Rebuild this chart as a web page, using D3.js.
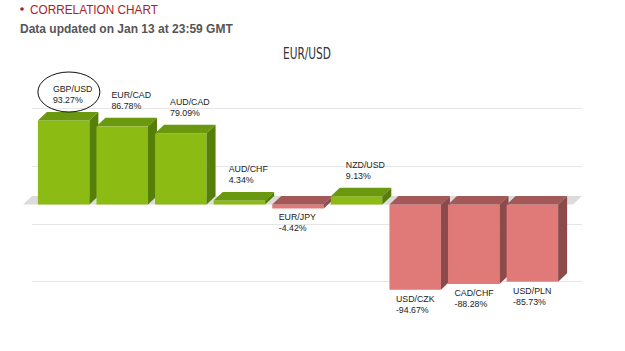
<!DOCTYPE html>
<html><head><meta charset="utf-8">
<script src="https://cdn.jsdelivr.net/npm/d3@7"></script>
<style>body{margin:0;background:#fff}svg{display:block}</style>
</head><body>
<svg id="c" width="625" height="351"></svg>
<script>
const categories = ["GBP/USD","EUR/CAD","AUD/CAD","AUD/CHF","EUR/JPY","NZD/USD","USD/CZK","CAD/CHF","USD/PLN"];
const values = [93.27, 86.78, 79.09, 4.34, -4.42, 9.13, -94.67, -88.28, -85.73];
const gridTicks = [97.8, 33.3, -31.1, -94.4];
const headerTitle = "CORRELATION CHART";
const subtitle = "Data updated on Jan 13 at 23:59 GMT";
const chartTitle = "EUR/USD";

const svg = d3.select("#c");
const dx = 9, dy = 8.5;
const x = d3.scaleBand().domain(categories).range([23, 573]).paddingInner(0.121).paddingOuter(0.254);
const y = d3.scaleLinear().domain([0, 93.27]).range([204.5, 120.5]);
const y0 = y(0);

// header
const hdr = svg.append("g").attr("font-family","Liberation Sans, Arial, sans-serif");
hdr.append("circle").attr("cx",22).attr("cy",9).attr("r",1.8).attr("fill","#a8202e");
hdr.append("text").attr("x",30).attr("y",13.5).attr("font-size",12.5).attr("fill","#a8202e")
  .attr("textLength",128).attr("lengthAdjust","spacingAndGlyphs").text(headerTitle);
hdr.append("text").attr("x",20).attr("y",33).attr("font-size",12).attr("font-weight","bold").attr("fill","#555").text(subtitle);

svg.append("text").attr("x",307).attr("y",59).attr("text-anchor","middle")
  .attr("font-family","DejaVu Sans Condensed, Liberation Sans Narrow, sans-serif").attr("font-size",16.5)
  .attr("textLength",48).attr("lengthAdjust","spacingAndGlyphs").attr("fill","#333").text(chartTitle);

// gridlines (back plane)
svg.append("g").selectAll("line").data(gridTicks).join("line")
  .attr("x1",23+dx).attr("x2",573+dx)
  .attr("y1",d=>Math.round(y(d)-dy)+0.5).attr("y2",d=>Math.round(y(d)-dy)+0.5)
  .attr("stroke","#e6e6e6").attr("stroke-width",1);

// floor
svg.append("polygon")
  .attr("points",[[23,y0],[573,y0],[573+dx,y0-dy],[23+dx,y0-dy]].map(p=>p.join(",")).join(" "))
  .attr("fill","#dcdcdc");

const colors = {
  pos:{front:"#8cbb14", top:"#6a990f", side:"#557f09"},
  neg:{front:"#e07a78", top:"#a45959", side:"#8d4a4a"}
};
const data = categories.map((c,i)=>({c, v:values[i]}));
const g = svg.append("g");
data.forEach(d=>{
  const c = d.v>=0 ? colors.pos : colors.neg;
  const x0 = x(d.c), w = x.bandwidth();
  const yt = Math.min(y0, y(d.v)), yb = Math.max(y0, y(d.v));
  const bg = g.append("g");
  bg.append("rect").attr("x",x0).attr("y",yt).attr("width",w).attr("height",yb-yt).attr("fill",c.front);
  bg.append("polygon").attr("points",[[x0,yt],[x0+dx,yt-dy],[x0+w+dx,yt-dy],[x0+w,yt]].map(p=>p.join(",")).join(" ")).attr("fill",c.top);
  bg.append("polygon").attr("points",[[x0+w,yt],[x0+w+dx,yt-dy],[x0+w+dx,yb-dy],[x0+w,yb]].map(p=>p.join(",")).join(" ")).attr("fill",c.side);
});

// labels
const lg = svg.append("g").attr("font-family","Liberation Sans, Arial, sans-serif").attr("font-size",8.8).attr("fill","#222");
data.forEach(d=>{
  const x0 = x(d.c);
  let tx, t1;
  if (d.v>=0){ tx = x0+15; t1 = y(d.v)-dy-20; }
  else { tx = x0+6.5; t1 = y(d.v)+12; }
  const t = lg.append("text").attr("x",tx).attr("y",t1);
  t.append("tspan").attr("x",tx).attr("dy",0).text(d.c);
  t.append("tspan").attr("x",tx).attr("dy",11).text(d.v.toFixed(2)+"%");
});

// ellipse highlight around first label
const e0 = data[0];
svg.append("ellipse").attr("cx",x(e0.c)+31).attr("cy",y(e0.v)-dy-20).attr("rx",31).attr("ry",20)
  .attr("fill","none").attr("stroke","#111").attr("stroke-width",1);
</script>
</body></html>
